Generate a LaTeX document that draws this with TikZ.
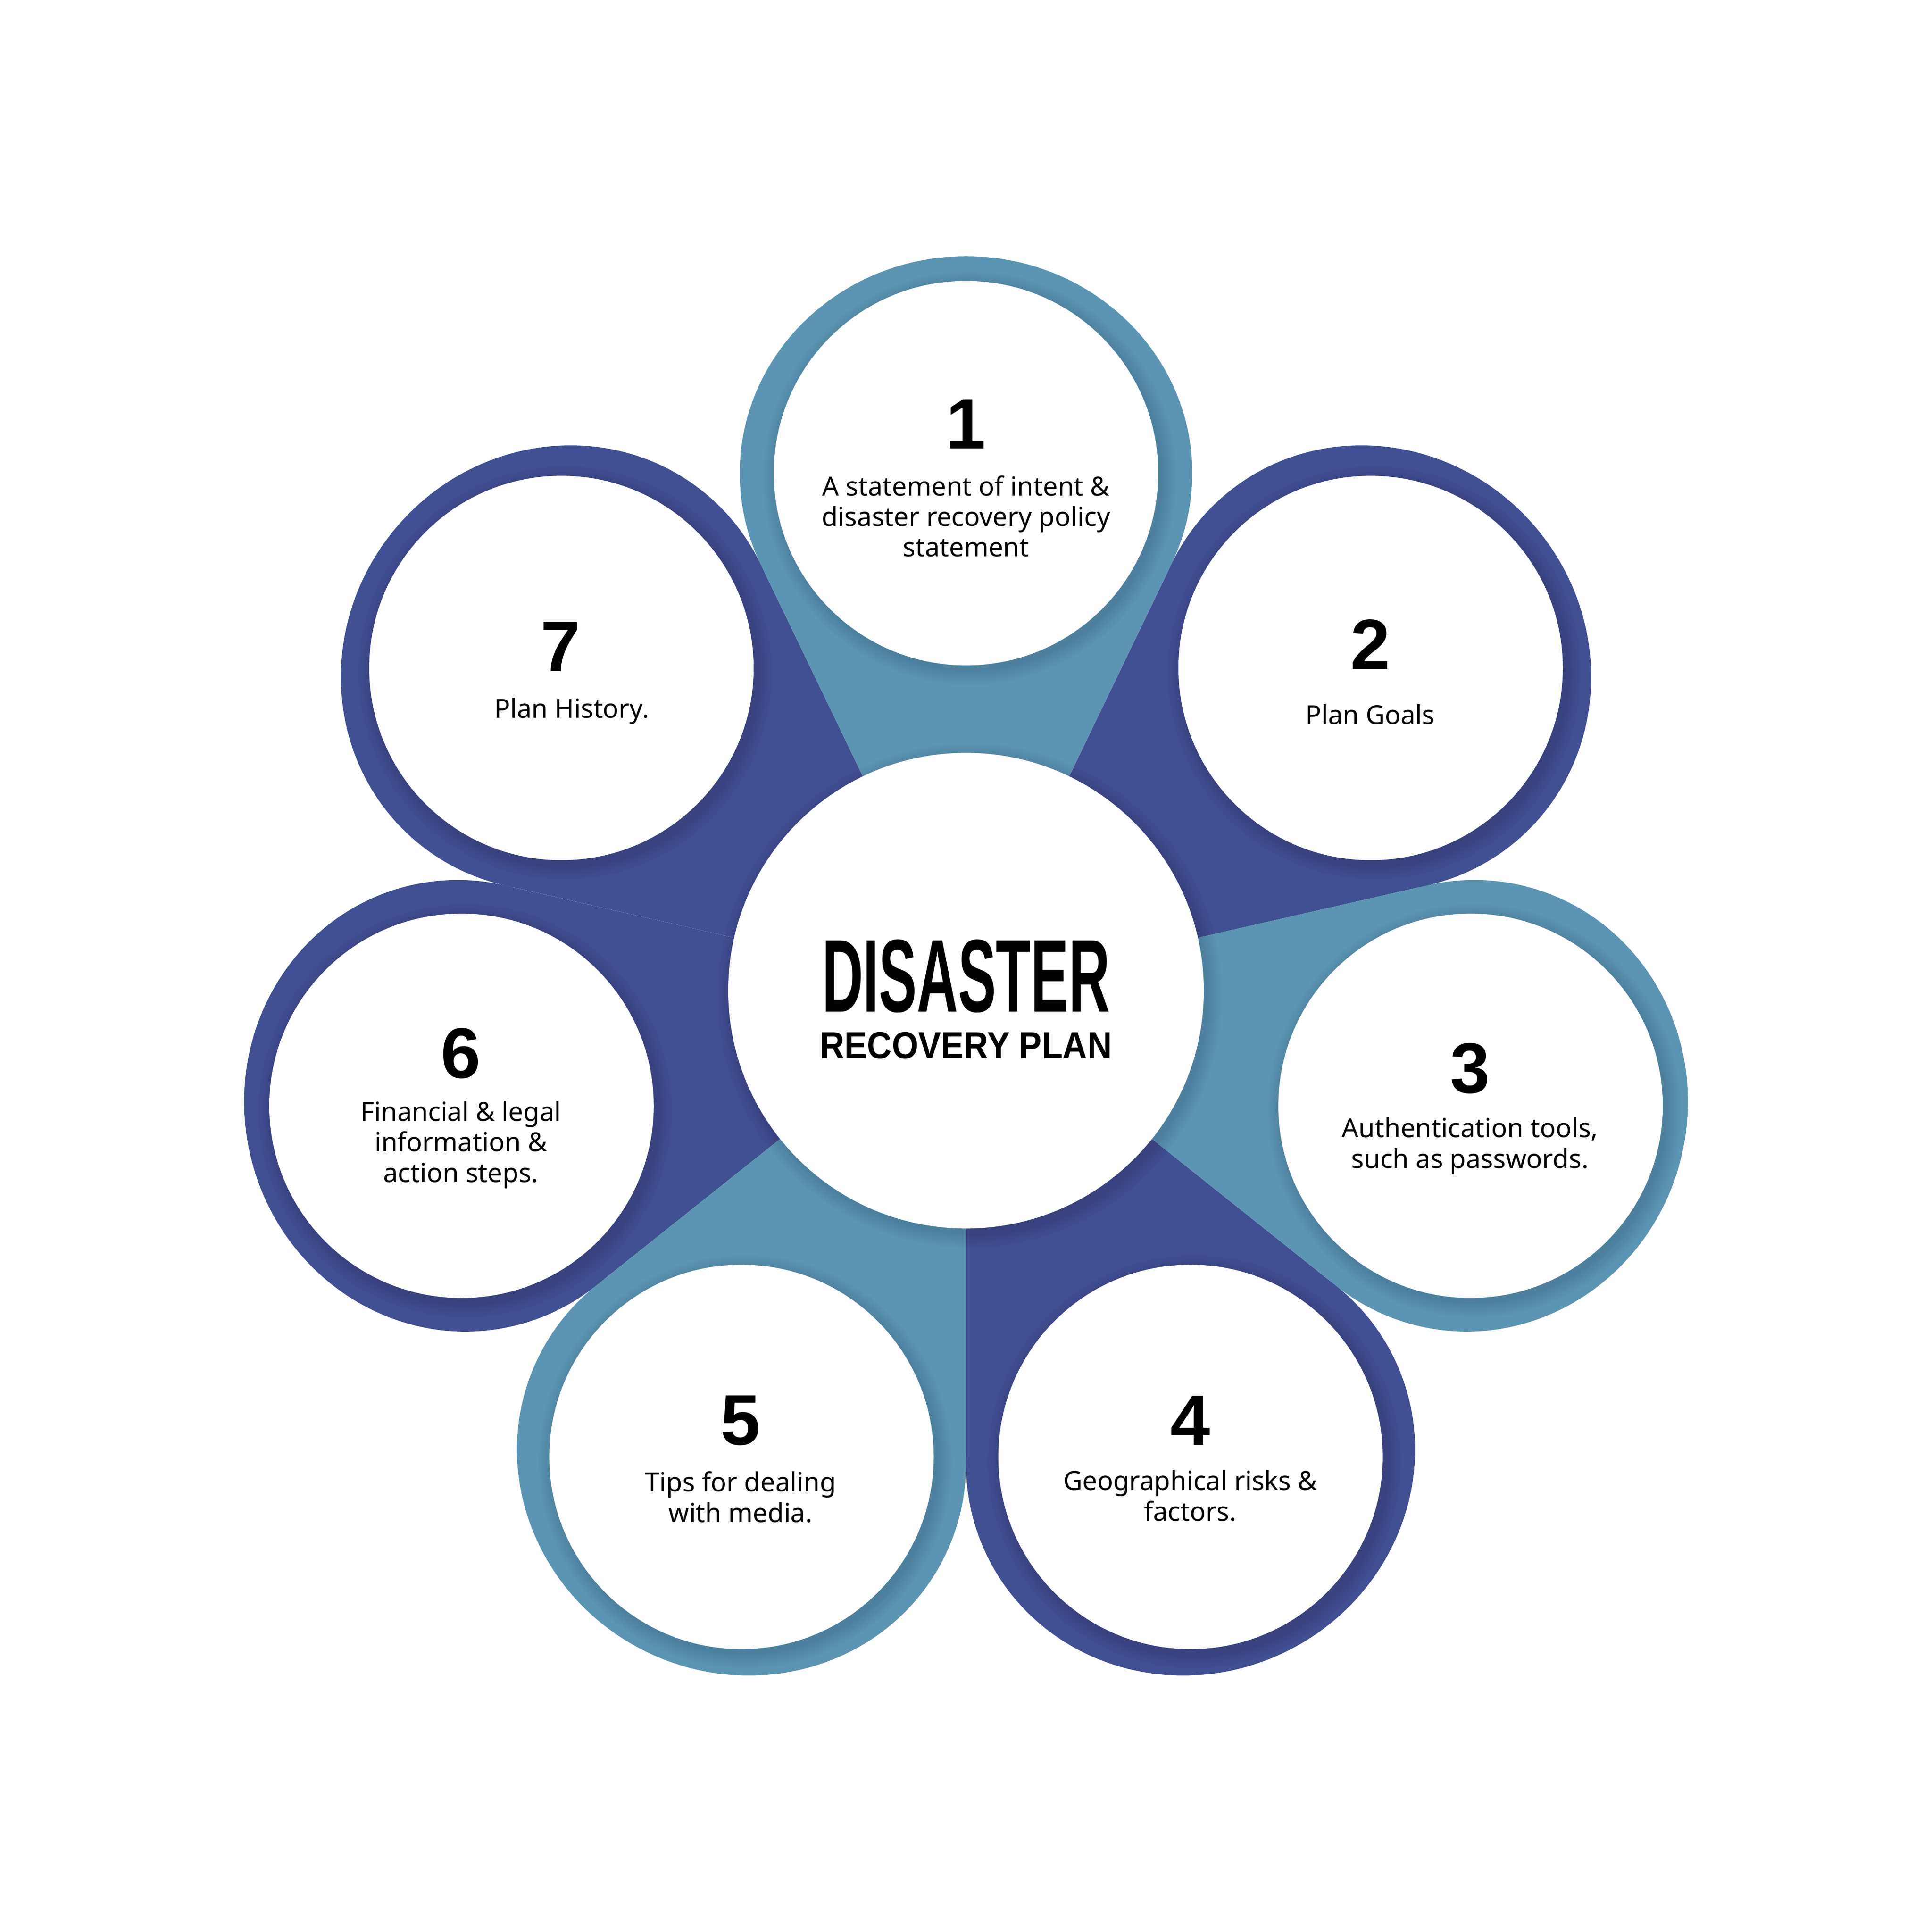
\documentclass[tikz,border=0pt]{standalone}
\usepackage{fontspec}
\usepackage{graphicx}
\setmainfont{Noto Sans}
\newfontfamily\headfont{Liberation Sans}
\definecolor{drpdark}{HTML}{414F93}
\definecolor{drpteal}{HTML}{5B95B3}
\tikzset{
  numtxt/.style={font=\headfont\fontsize{58}{58}\selectfont\bfseries, inner sep=0pt},
  bodytxt/.style={font=\fontsize{21.3}{24.8}\selectfont, align=center, inner sep=0pt},
  whitedisc/.style={circle, fill=white, minimum size=312pt, inner sep=0pt},
  centerdisc/.style={circle, fill=white, minimum size=386pt, inner sep=0pt},
}
\begin{document}
\begin{tikzpicture}[x=1pt,y=-1pt]
\useasboundingbox (0,0) rectangle (1568,1568);
\fill[white] (0,0) rectangle (1568,1568);
\coordinate (O) at (784,804);
\begin{scope}[shift={(O)}]
  % petals (teardrops), later ones on top
  \foreach \i/\col in {7/drpdark,6/drpdark,5/drpteal,4/drpdark,3/drpteal,2/drpdark,1/drpteal}{
    \pgfmathsetmacro\ang{-90+(\i-1)*360/7}
    \begin{scope}[shift={(\ang:420)}, rotate=-\ang]
      \fill[\col] (-420,0) -- (-73.75,-166.7) -- (0,0) -- (-73.75,166.7) -- cycle;
      \fill[\col] (0,0) ellipse [x radius=176, y radius=183.6];
    \end{scope}
  }
  % soft shadows
  \foreach \i in {1,...,7}{
    \pgfmathsetmacro\ang{-90+(\i-1)*360/7}
    \begin{scope}[shift={(\ang:420)}]
      \foreach \k in {1,...,7}{
        \fill[black, opacity=0.016] (3,4) circle ({155+\k*1.8});
      }
    \end{scope}
  }
  \foreach \k in {1,...,7}{
    \fill[black, opacity=0.016] (3,4) circle ({192+\k*1.8});
  }
  % white discs
  \foreach \i in {1,...,7}{
    \pgfmathsetmacro\ang{-90+(\i-1)*360/7}
    \node[whitedisc] (c\i) at (\ang:420) {};
  }
  \node[centerdisc] (center) at (0,0) {};
\end{scope}

% center title
\node[inner sep=0pt, align=center, font=\headfont\bfseries\fontsize{30.7}{38}\selectfont] (title) at (784,811)
  {\scalebox{0.55}[1]{\fontsize{84}{84}\selectfont DISASTER}\\\scalebox{0.9}[1]{RECOVERY PLAN}};

% numbers
\node[numtxt] (n1) at (784,344) {1};
\node[numtxt] (n2) at (1112,523) {2};
\node[numtxt] (n3) at (1193,867) {3};
\node[numtxt] (n4) at (966,1153) {4};
\node[numtxt] (n5) at (601,1153) {5};
\node[numtxt] (n6) at (374,855) {6};
\node[numtxt] (n7) at (455,525) {7};

% descriptions
\node[bodytxt] (t1) at (784,419) {A statement of intent \&\\disaster recovery policy\\statement};
\node[bodytxt] (t2) at (1112,580) {Plan Goals};
\node[bodytxt] (t3) at (1193,930) {Authentication tools,\\such as passwords.};
\node[bodytxt] (t4) at (966,1214) {Geographical risks \&\\factors.};
\node[bodytxt] (t5) at (601,1215) {Tips for dealing\\with media.};
\node[bodytxt] (t6) at (374,929) {Financial \& legal\\information \&\\action steps.};
\node[bodytxt] (t7) at (464,577) {Plan History.};
\end{tikzpicture}
\end{document}
